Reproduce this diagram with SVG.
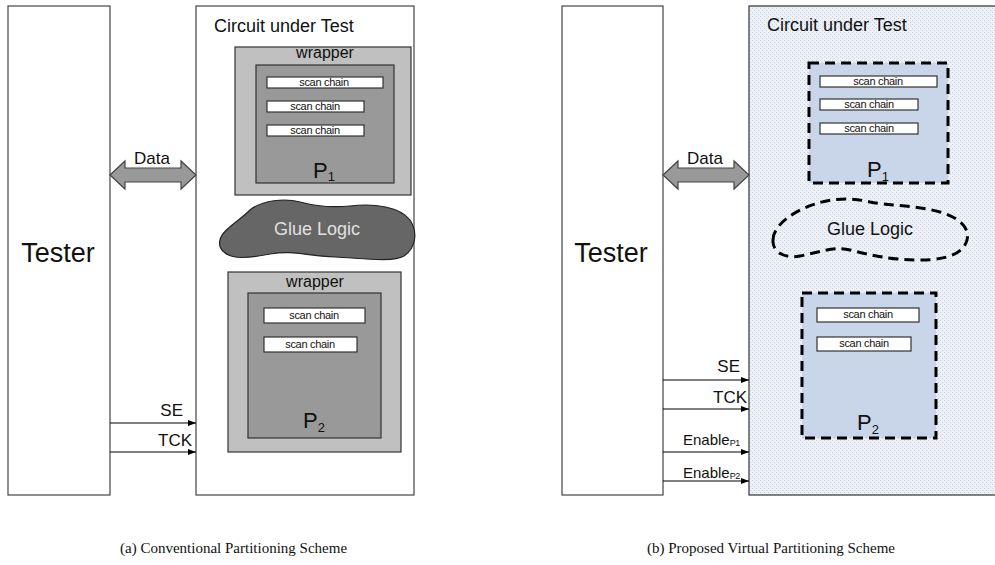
<svg xmlns="http://www.w3.org/2000/svg" width="995" height="565" viewBox="0 0 995 565">
<defs>
<pattern id="dots" width="4" height="4" patternUnits="userSpaceOnUse">
<rect width="4" height="4" fill="#edf1f7"/>
<rect x="0" y="0" width="1" height="1" fill="#c5d0e0"/>
<rect x="2" y="2" width="1" height="1" fill="#c5d0e0"/>
</pattern>
<marker id="ah" markerWidth="8" markerHeight="6" refX="8" refY="3" orient="auto" markerUnits="userSpaceOnUse">
<path d="M0,0 L8,3 L0,6 Z" fill="#000"/>
</marker>
<style>
.box{fill:#fff;stroke:#444;stroke-width:1.2}
.wrap{fill:#c0c0c0;stroke:#333;stroke-width:1.2}
.core{fill:#999;stroke:#333;stroke-width:1.2}
.vcore{fill:#c9d5e8;stroke:#000;stroke-width:3;stroke-dasharray:10,6}
.sc{fill:#fff;stroke:#333;stroke-width:1.2}
.t{font-family:"Liberation Sans",Arial,sans-serif;fill:#111}
.sct{font-family:"Liberation Sans",Arial,sans-serif;font-size:11px;fill:#111;text-anchor:middle;letter-spacing:-0.3px}
.cap{font-family:"Liberation Serif","Times New Roman",serif;font-size:15px;fill:#111}
.sig{stroke:#000;stroke-width:1.2;fill:none;marker-end:url(#ah)}
.fat{fill:#999;stroke:#444;stroke-width:1.2}
</style>
</defs>

<!-- (a) conventional -->
<g id="tester-a">
<rect class="box" x="8" y="6" width="102" height="489"/>
<text class="t" x="58" y="262" font-size="27" text-anchor="middle">Tester</text>
</g>
<g id="cut-a">
<rect class="box" x="196" y="6" width="218" height="489"/>
<text class="t" x="214" y="32" font-size="18">Circuit under Test</text>
</g>
<g id="p1-a">
<rect class="wrap" x="235" y="47" width="176" height="148"/>
<text class="t" x="325" y="58" font-size="16" text-anchor="middle">wrapper</text>
<rect class="core" x="256" y="65" width="138" height="118"/>
<rect class="sc" x="267" y="77" width="116" height="11"/>
<text class="sct" x="324" y="86">scan chain</text>
<rect class="sc" x="267" y="101" width="97" height="11"/>
<text class="sct" x="315" y="110">scan chain</text>
<rect class="sc" x="267" y="125" width="97" height="11"/>
<text class="sct" x="315" y="134">scan chain</text>
<text class="t" x="313" y="178" font-size="22">P<tspan font-size="13" dy="3">1</tspan></text>
</g>
<g id="glue-a">
<path d="M220,240 C222,230 238,222 250,210 C262,200 285,198 300,202 C315,206 330,208 350,206 C375,203 400,207 410,220 C418,232 416,248 404,256 C392,263 360,258 335,257 C305,256 295,250 270,254 C250,258 232,260 224,252 C219,248 219,244 220,240 Z" fill="#666" stroke="#222" stroke-width="1.2"/>
<text class="t" x="317" y="235" font-size="18" text-anchor="middle" style="fill:#e0e0e0">Glue Logic</text>
</g>
<g id="p2-a">
<rect class="wrap" x="228" y="272" width="173" height="180"/>
<text class="t" x="315" y="287" font-size="16" text-anchor="middle">wrapper</text>
<rect class="core" x="248" y="293" width="133" height="145"/>
<rect class="sc" x="264" y="308" width="101" height="15"/>
<text class="sct" x="314" y="319">scan chain</text>
<rect class="sc" x="264" y="337" width="93" height="15"/>
<text class="sct" x="310" y="348">scan chain</text>
<text class="t" x="303" y="428" font-size="22">P<tspan font-size="13" dy="4">2</tspan></text>
</g>

<!-- (b) proposed -->
<g id="tester-b">
<rect class="box" x="562" y="6" width="101" height="489"/>
<text class="t" x="611" y="262" font-size="27" text-anchor="middle">Tester</text>
</g>
<g id="cut-b">
<rect x="749" y="6" width="250" height="489" fill="url(#dots)" stroke="#333" stroke-width="1.2"/>
<text class="t" x="767" y="31" font-size="18">Circuit under Test</text>
</g>
<g id="p1-b">
<rect class="vcore" x="809" y="63" width="139" height="120"/>
<rect class="sc" x="820" y="76" width="117" height="11"/>
<text class="sct" x="878" y="85">scan chain</text>
<rect class="sc" x="820" y="99" width="98" height="11"/>
<text class="sct" x="869" y="108">scan chain</text>
<rect class="sc" x="820" y="123" width="98" height="11"/>
<text class="sct" x="869" y="132">scan chain</text>
<text class="t" x="867" y="177" font-size="22">P<tspan font-size="13" dy="4">1</tspan></text>
</g>
<g id="glue-b">
<path d="M773,240 C773,225 795,210 815,204 C830,199 850,197 870,202 C890,206 915,205 940,212 C960,218 970,228 967,240 C964,252 950,260 920,260 C890,260 870,255 850,250 C835,246 820,252 800,256 C785,259 772,252 773,240 Z" fill="none" stroke="#000" stroke-width="3" stroke-dasharray="10,6"/>
<text class="t" x="870" y="235" font-size="18" text-anchor="middle">Glue Logic</text>
</g>
<g id="p2-b">
<rect class="vcore" x="802" y="293" width="134" height="145"/>
<rect class="sc" x="817" y="308" width="102" height="14"/>
<text class="sct" x="868" y="318">scan chain</text>
<rect class="sc" x="817" y="337" width="94" height="14"/>
<text class="sct" x="864" y="347">scan chain</text>
<text class="t" x="857" y="430" font-size="22">P<tspan font-size="13" dy="4">2</tspan></text>
</g>

<g id="connectors">
<path class="fat" d="M110,175 L125,161 L125,168 L181,168 L181,161 L196,175 L181,189 L181,182 L125,182 L125,189 Z"/>
<text class="t" x="152" y="164" font-size="17" text-anchor="middle">Data</text>
<line class="sig" x1="110" y1="423" x2="196" y2="423"/>
<text class="t" x="183" y="416" font-size="17" text-anchor="end">SE</text>
<line class="sig" x1="110" y1="452" x2="196" y2="452"/>
<text class="t" x="192" y="446" font-size="17" text-anchor="end">TCK</text>

<path class="fat" d="M663,175 L678,161 L678,168 L734,168 L734,161 L749,175 L734,189 L734,182 L678,182 L678,189 Z"/>
<text class="t" x="705" y="164" font-size="17" text-anchor="middle">Data</text>
<line class="sig" x1="663" y1="380" x2="749" y2="380"/>
<text class="t" x="740" y="372" font-size="17" text-anchor="end">SE</text>
<line class="sig" x1="663" y1="409" x2="749" y2="409"/>
<text class="t" x="747" y="403" font-size="17" text-anchor="end">TCK</text>
<line class="sig" x1="663" y1="452" x2="749" y2="452"/>
<text class="t" x="683" y="445" font-size="15">Enable<tspan font-size="9" dy="1" letter-spacing="-0.5">P1</tspan></text>
<line class="sig" x1="663" y1="481" x2="749" y2="481"/>
<text class="t" x="683" y="478" font-size="15">Enable<tspan font-size="9" dy="1" letter-spacing="-0.5">P2</tspan></text>
</g>

<text class="cap" x="120" y="553">(a) Conventional Partitioning Scheme</text>
<text class="cap" x="647" y="553">(b) Proposed Virtual Partitioning Scheme</text>
</svg>
